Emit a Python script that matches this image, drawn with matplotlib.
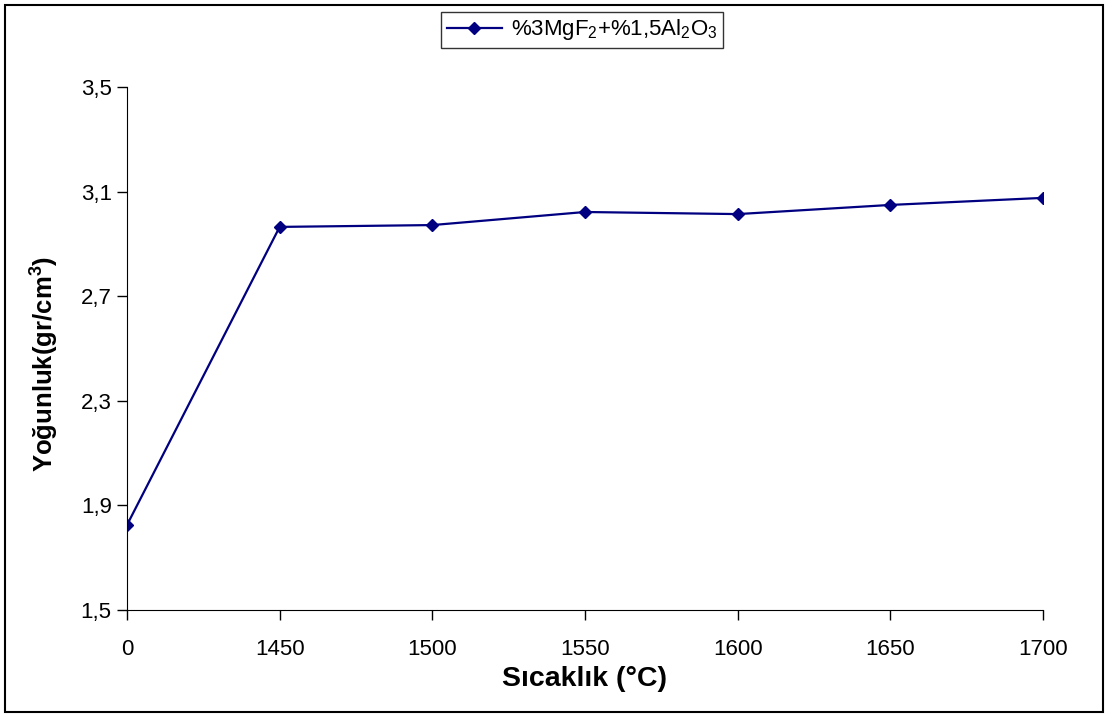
import matplotlib
matplotlib.use('Agg')
import matplotlib.pyplot as plt
from matplotlib.patches import Rectangle

# data
categories = ['0', '1450', '1500', '1550', '1600', '1650', '1700']
density = [1.825, 2.965, 2.972, 3.022, 3.014, 3.049, 3.076]
yticks = [1.5, 1.9, 2.3, 2.7, 3.1, 3.5]
series_label = '%3MgF$_2$+%1,5Al$_2$O$_3$'

plt.rcParams['font.family'] = ['Liberation Sans', 'DejaVu Sans']
plt.rcParams['mathtext.fontset'] = 'custom'
plt.rcParams['mathtext.rm'] = 'Liberation Sans'
plt.rcParams['mathtext.it'] = 'Liberation Sans'
plt.rcParams['mathtext.bf'] = 'Liberation Sans:bold'

fig = plt.figure(figsize=(11.08, 7.17), dpi=100)
ax = fig.add_axes([127/1108, 107/717, (1043-127)/1108, (610-87)/717])

xs = list(range(len(categories)))
ax.plot(xs, density, color='#000080', linewidth=1.6, marker='D', markersize=6.5,
        label=series_label)

ax.set_xlim(0, len(categories) - 1)
ax.set_ylim(1.5, 3.5)
ax.set_xticks(xs)
ax.set_xticklabels(categories, fontsize=16)
ax.set_yticks(yticks)
ax.set_yticklabels([('%.1f' % v).replace('.', ',') for v in yticks], fontsize=16)
ax.tick_params(direction='out', length=7, width=1)
ax.tick_params(axis='x', pad=14)
ax.tick_params(axis='y', pad=4)
ax.spines['top'].set_visible(False)
ax.spines['right'].set_visible(False)

ax.set_xlabel('Sıcaklık (°C)', fontsize=20.5, fontweight='bold', labelpad=4)
ax.set_ylabel('Yoğunluk(gr/cm$^\\mathbf{3}$)', fontsize=18.5, fontweight='bold')
ax.yaxis.set_label_coords(-0.072, 0.47)

leg = fig.legend(loc='center', bbox_to_anchor=(582/1108, 1 - 30/717), fontsize=16,
                 frameon=True, fancybox=False, edgecolor='black', borderpad=0.25,
                 handlelength=2.5, handletextpad=0.4)
leg.get_frame().set_linewidth(1)

fig.patches.append(Rectangle((5/1108, 5/717), 1098/1108, 707/717, transform=fig.transFigure,
                             fill=False, edgecolor='black', linewidth=1.5))

fig.savefig('out.png', dpi=100)
plt.close()
